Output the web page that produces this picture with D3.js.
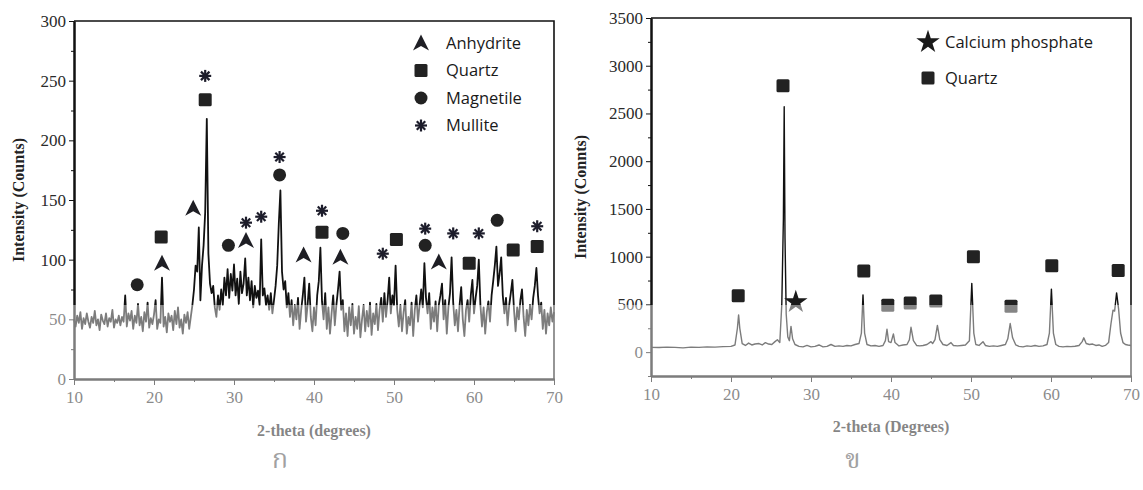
<!DOCTYPE html>
<html>
<head>
<meta charset="utf-8">
<script src="https://cdn.jsdelivr.net/npm/d3@7"></script>
<style>
  body { margin: 0; background: #fff; }
  svg { display: block; }
  .title { font-family: "Liberation Serif", "Times New Roman", serif; font-size: 16px; font-weight: bold; fill: #222; }
  .legend { font-family: "Open Sans", sans-serif; font-size: 16.5px; fill: #1a1a1a; }
  .panel-tag { font-family: "Noto Serif Thai", "Noto Sans Thai", "Norasi", "Loma", "Garuda", "DejaVu Sans", sans-serif; font-size: 27px; fill: #555; }
</style>
</head>
<body>
<svg id="svg" width="1143" height="490"></svg>
<script>
// ---- data: panel ก (fly ash, 2-theta 10..70, step 0.2) ----
var leftStart = 10, leftStep = 0.2;
var leftIntensity = [
  50,44,53,47,56,42,51,46,55,48,
  43,52,47,57,45,50,41,54,49,46,
  55,44,51,48,58,43,50,47,53,45,
  52,48,70,44,55,49,57,42,53,47,
  63,45,52,40,56,48,64,43,51,46,
  54,66,42,50,47,85,44,52,39,55,
  48,53,41,57,46,60,43,50,38,54,
  47,56,42,52,62,75,95,90,127,66,
  95,112,140,218,105,80,72,78,60,52,
  70,58,75,62,85,70,92,68,88,74,
  96,70,84,63,90,72,80,101,70,85,
  66,82,60,78,68,74,62,117,70,76,
  62,70,58,72,55,66,78,95,130,158,
  90,75,82,60,72,52,66,45,62,50,
  68,42,58,70,85,48,62,80,52,40,
  60,45,70,82,110,65,50,72,42,60,
  38,55,70,45,62,75,90,58,66,40,
  55,36,60,45,63,38,52,42,61,35,
  50,62,40,57,44,64,37,55,46,63,
  41,58,68,48,72,52,66,85,55,70,
  62,95,58,44,62,40,56,66,38,52,
  45,64,36,58,70,48,62,75,60,97,
  68,55,72,42,60,48,65,40,62,70,
  80,50,66,38,60,72,102,64,45,58,
  40,62,77,50,36,58,66,48,70,83,
  55,68,78,100,62,44,60,38,56,65,
  48,70,82,95,111,78,88,102,70,55,
  68,45,62,72,83,58,40,60,50,66,
  75,52,36,58,45,62,50,68,78,93,
  70,55,64,42,58,38,55,45,60,48,
  56
];
var leftYTicks = [0, 50, 100, 150, 200, 250, 300];
var leftYMinor = [25, 75, 125, 175, 225, 275];

// phase markers [2-theta, height] for panel ก
var anhydritePeaks = [[21, 97], [24.9, 143], [31.5, 116], [38.7, 104], [43.3, 102], [55.6, 98]];
var quartzPeaksA = [[20.9, 119], [26.4, 234], [41, 123], [50.3, 117], [59.4, 97], [64.9, 108], [67.9, 111]];
var magnetilePeaks = [[17.9, 79], [29.3, 112], [35.7, 171], [43.6, 122], [53.9, 112], [62.9, 133]];
var mullitePeaks = [[26.4, 254], [31.5, 131], [33.4, 136], [35.7, 186], [41, 141], [48.6, 105], [53.9, 126], [57.4, 122], [60.6, 122], [67.9, 128]];

// ---- data: panel ข ----
var rightTheta = [
  10,11,12,13,14,15,16,17,18,19,20,20.5,20.8,20.95,21.1,21.4,21.8,22.2,22.6,23,23.5,23.9,24.3,24.7,25.1,25.5,25.8,26.1,
  26.35,26.55,26.65,26.75,26.9,27.1,27.3,27.5,27.7,28,28.5,29,29.5,30,30.5,31,31.5,32,32.5,33,33.5,34,34.5,35,35.5,36,
  36.3,36.5,36.7,37,37.5,38,38.5,39,39.3,39.5,39.7,40,40.3,40.5,41,41.5,42,42.3,42.5,42.8,43.2,43.6,44,44.5,45,45.2,45.5,
  45.8,46.1,46.5,47,47.5,47.8,48.3,48.8,49.3,49.8,50.1,50.35,50.6,51,51.5,51.8,52.3,52.8,53.3,53.8,54.3,54.6,54.9,55.2,
  55.6,56,56.5,57,57.5,58,58.5,59,59.5,59.8,60.05,60.3,60.6,61,61.5,62,62.5,63,63.5,63.9,64.1,64.4,64.8,65.2,65.6,66,
  66.4,66.8,67.2,67.5,67.75,67.95,68.2,68.45,68.7,69,69.3,69.6,70
];
var rightCounts = [
  50,48,52,50,45,52,50,55,52,58,60,75,250,390,250,90,70,95,75,85,90,75,100,85,80,110,130,100,
  500,1400,2570,1200,400,160,120,270,140,80,60,55,70,55,60,75,55,60,80,60,65,60,70,65,80,90,
  200,600,200,80,65,70,60,70,120,240,110,100,190,100,65,75,80,130,260,120,70,65,70,80,110,90,130,
  280,130,80,70,100,70,65,70,75,120,720,200,80,70,110,70,60,65,60,70,80,140,300,150,
  75,60,55,65,60,70,60,65,80,200,660,200,80,60,55,60,58,62,70,110,150,90,80,85,70,75,
  60,70,100,300,440,430,620,450,200,100,80,75,70
];
var rightYTicks = [0, 500, 1000, 1500, 2000, 2500, 3000, 3500];
var rightYMinor = [-250, 250, 750, 1250, 1750, 2250, 2750, 3250];

var quartzPeaksB = [[20.9, 590], [26.5, 2790], [36.6, 850], [39.6, 490], [42.4, 515], [45.6, 535], [50.3, 1000], [55, 480], [60.1, 905], [68.4, 855]];
var calciumPeaks = [[28.1, 525]];

var xTicks = [10, 20, 30, 40, 50, 60, 70];
var xMinor = [15, 25, 35, 45, 55, 65];

var svg = d3.select("#svg");
var splitY = 305; // the scan is washed out below this line

// marker shapes, drawn around (0,0)
function marker(g, type, px, py) {
  var m = g.append("g").attr("transform", `translate(${px},${py})`);
  if (type == "tri") {
    m.append("path").attr("d", "M0,-8.5 L8,7.5 L0,3 L-8,7.5 Z").attr("fill", "#1e1e24");
  } else if (type == "sq") {
    m.append("rect").attr("x", -6.5).attr("y", -6.5).attr("width", 13).attr("height", 13)
      .attr("rx", 1.5).attr("fill", "#222");
  } else if (type == "dot") {
    m.append("circle").attr("r", 6.5).attr("fill", "#222");
  } else if (type == "ast") {
    [0, 45, 90, 135].forEach(a => {
      m.append("line").attr("x1", -6).attr("x2", 6).attr("y1", 0).attr("y2", 0)
        .attr("transform", `rotate(${a})`).attr("stroke", "#1d1d2b").attr("stroke-width", 2.2);
    });
  } else if (type == "star") {
    m.append("path").attr("d", d3.symbol().type(d3.symbolStar).size(170)()).attr("fill", "#1a1a1a");
  }
}

// serif tick labels like the scanned figure
function styleAxis(sel) {
  sel.attr("font-family", "Liberation Serif, Times New Roman, serif").attr("font-size", 17);
  sel.selectAll("text")
    .attr("font-family", "Liberation Serif, Times New Roman, serif")
    .style("font-family", "'Liberation Serif', 'Times New Roman', serif")
    .style("font-size", "17px")
    .style("fill", "#2a2a2a");
  sel.selectAll("line").attr("stroke", "#111");
  sel.select(".domain").attr("stroke", "#111").attr("stroke-width", 2);
}

function drawPanel(p) {
  var x = d3.scaleLinear().domain([10, 70]).range([p.left, p.right]);
  var y = d3.scaleLinear().domain(p.yDomain).range([p.bottom, p.top]);
  var g = svg.append("g");

  // frame (top and right)
  g.append("path")
    .attr("d", `M${p.left},${p.top} H${p.right} V${p.bottom}`)
    .attr("fill", "none").attr("stroke", "#111").attr("stroke-width", 1.6);

  // minor ticks
  g.append("g")
    .attr("transform", `translate(0,${p.bottom})`)
    .call(d3.axisBottom(x).tickValues(xMinor).tickSize(3).tickSizeOuter(0).tickFormat(""))
    .call(styleAxis);
  g.append("g")
    .attr("transform", `translate(${p.left},0)`)
    .call(d3.axisLeft(y).tickValues(p.yMinor).tickSize(3).tickSizeOuter(0).tickFormat(""))
    .call(styleAxis);

  // major axes
  g.append("g")
    .attr("transform", `translate(0,${p.bottom})`)
    .call(d3.axisBottom(x).tickValues(xTicks).tickSize(6).tickSizeOuter(0).tickPadding(6))
    .call(styleAxis);
  g.append("g")
    .attr("transform", `translate(${p.left},0)`)
    .call(d3.axisLeft(y).tickValues(p.yTicks).tickSize(5).tickSizeOuter(0).tickPadding(3).tickFormat(d3.format("d")))
    .call(styleAxis);

  // pattern line
  var line = d3.line().x(d => x(d[0])).y(d => y(d[1]));
  g.append("path").datum(p.series)
    .attr("d", line)
    .attr("fill", "none").attr("stroke", "#111")
    .attr("stroke-width", p.lineWidth).attr("stroke-linejoin", "round");

  // phase markers
  p.markers.forEach(set => {
    set.peaks.forEach(d => marker(g, set.type, x(d[0]), y(d[1])));
  });

  // axis titles
  g.append("text").attr("class", "title")
    .attr("transform", `translate(${p.yTitleX},${(p.top + p.bottom) / 2}) rotate(-90)`)
    .attr("text-anchor", "middle").attr("dy", "0.35em")
    .text(p.yTitle);
  g.append("text").attr("class", "title")
    .attr("x", (p.left + p.right) / 2).attr("y", p.xTitleY)
    .attr("text-anchor", "middle")
    .text(p.xTitle);

  // legend
  p.legend.forEach((d, i) => {
    marker(g, d.type, p.legendX, p.legendY + i * p.legendGap);
    g.append("text").attr("class", "legend")
      .attr("x", p.legendX + p.legendTextDx).attr("y", p.legendY + i * p.legendGap)
      .attr("dy", "0.35em").text(d.name);
  });

  g.append("text").attr("class", "panel-tag")
    .attr("x", p.tagX).attr("y", 468).attr("text-anchor", "middle").text(p.tag);
}

drawPanel({
  left: 74, right: 554, top: 21, bottom: 379,
  yDomain: [0, 300], yTicks: leftYTicks, yMinor: leftYMinor,
  series: leftIntensity.map((v, i) => [leftStart + i * leftStep, v]),
  lineWidth: 1.8,
  markers: [
    { type: "tri", peaks: anhydritePeaks },
    { type: "sq", peaks: quartzPeaksA },
    { type: "dot", peaks: magnetilePeaks },
    { type: "ast", peaks: mullitePeaks }
  ],
  yTitle: "Intensity (Counts)", yTitleX: 18,
  xTitle: "2-theta (degrees)", xTitleY: 436,
  legend: [
    { type: "tri", name: "Anhydrite" },
    { type: "sq", name: "Quartz" },
    { type: "dot", name: "Magnetile" },
    { type: "ast", name: "Mullite" }
  ],
  legendX: 421, legendY: 43, legendGap: 27.5, legendTextDx: 25,
  tag: "ก", tagX: 280
});

drawPanel({
  left: 651, right: 1131, top: 18, bottom: 376,
  yDomain: [-250, 3500], yTicks: rightYTicks, yMinor: rightYMinor,
  series: rightTheta.map((t, i) => [t, rightCounts[i]]),
  lineWidth: 1.4,
  markers: [
    { type: "sq", peaks: quartzPeaksB },
    { type: "star", peaks: calciumPeaks }
  ],
  yTitle: "Intensity (Connts)", yTitleX: 580,
  xTitle: "2-theta (Degrees)", xTitleY: 432,
  legend: [
    { type: "star", name: "Calcium phosphate" },
    { type: "sq", name: "Quartz" }
  ],
  legendX: 928, legendY: 42, legendGap: 36, legendTextDx: 17,
  tag: "ข", tagX: 853
});

// washed-out lower part of the scan
svg.append("rect")
  .attr("x", 0).attr("y", splitY).attr("width", 1143).attr("height", 490 - splitY)
  .attr("fill", "#fff").attr("opacity", 0.45);
</script>
</body>
</html>
